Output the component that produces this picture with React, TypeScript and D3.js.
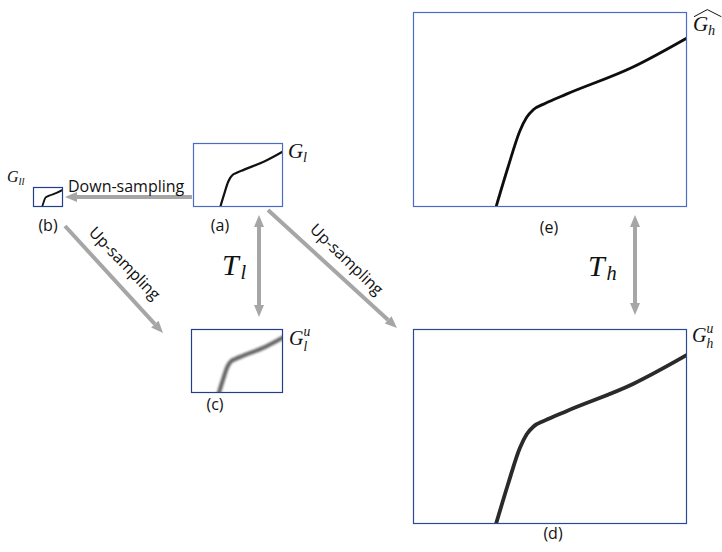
import React from 'react';
import * as d3 from 'd3';

// normalized curve: x from left, y from bottom
const curveX = [0.303, 0.347, 0.39, 0.415, 0.44, 0.48, 0.562, 0.803, 1.0];
const curveY = [0.0, 0.205, 0.39, 0.46, 0.5, 0.53, 0.58, 0.718, 0.867];

const panelIds = ['a', 'b', 'c', 'd', 'e'];
const panelCaptions = ['(a)', '(b)', '(c)', '(d)', '(e)'];

const W = 722;
const H = 552;

// layout of the diagram
const layout: Record<string, any> = {
  a: { x: 193, y: 143, w: 90, h: 64, border: '#4a6cc2', stroke: '#111', sw: 2.2, blur: 0, cap: [220, 231] },
  b: { x: 33, y: 187, w: 30, h: 20, border: '#22408a', stroke: '#111', sw: 1.8, blur: 0, cap: [48, 231] },
  c: { x: 191, y: 329, w: 92, h: 64, border: '#22408a', stroke: '#666', sw: 4.2, blur: 1.2, cap: [215, 410] },
  d: { x: 413, y: 329, w: 274, h: 195, border: '#2a4a95', stroke: '#2a2a2a', sw: 3.8, blur: 0.7, cap: [553, 539] },
  e: { x: 413, y: 12, w: 274, h: 195, border: '#4a6cc2', stroke: '#0a0a0a', sw: 2.8, blur: 0.3, cap: [549, 233] },
};

const arrowColor = '#a6a6a6';

const Arrow = ({ x1, y1, x2, y2, both = false }: any) => {
  const len = 12;
  const half = 5;
  const dx = x2 - x1;
  const dy = y2 - y1;
  const d = Math.hypot(dx, dy);
  const ux = dx / d;
  const uy = dy / d;
  const head = (tx: number, ty: number, vx: number, vy: number) => {
    const bx = tx - vx * len;
    const by = ty - vy * len;
    return `${tx},${ty} ${bx - vy * half},${by + vx * half} ${bx + vy * half},${by - vx * half}`;
  };
  const sx = both ? x1 + ux * len : x1;
  const sy = both ? y1 + uy * len : y1;
  return (
    <g>
      <line x1={sx} y1={sy} x2={x2 - ux * len} y2={y2 - uy * len} stroke={arrowColor} strokeWidth={4} />
      <polygon points={head(x2, y2, ux, uy)} fill={arrowColor} />
      {both && <polygon points={head(x1, y1, -ux, -uy)} fill={arrowColor} />}
    </g>
  );
};

const Panel = ({ id, caption }: any) => {
  const p = layout[id];
  const x = d3.scaleLinear().domain([0, 1]).range([p.x, p.x + p.w]);
  const y = d3.scaleLinear().domain([0, 1]).range([p.y + p.h, p.y]);
  const pts: [number, number][] = curveX.map((v, i) => [v, curveY[i]]);
  const line = d3
    .line<[number, number]>()
    .x((d) => x(d[0]))
    .y((d) => y(d[1]))
    .curve(d3.curveMonotoneX);
  return (
    <g>
      <defs>
        <clipPath id={`clip-${id}`}>
          <rect x={p.x} y={p.y} width={p.w} height={p.h} />
        </clipPath>
        {p.blur > 0 && (
          <filter id={`blur-${id}`} x="-20%" y="-20%" width="140%" height="140%">
            <feGaussianBlur stdDeviation={p.blur} />
          </filter>
        )}
      </defs>
      <rect x={p.x} y={p.y} width={p.w} height={p.h} fill="#fff" />
      <g clipPath={`url(#clip-${id})`}>
        <path
          d={line(pts) || ''}
          fill="none"
          stroke={p.stroke}
          strokeWidth={p.sw}
          strokeLinecap="round"
          filter={p.blur > 0 ? `url(#blur-${id})` : undefined}
        />
      </g>
      <rect x={p.x + 0.5} y={p.y + 0.5} width={p.w - 1} height={p.h - 1} fill="none" stroke={p.border} strokeWidth={1.2} />
      <text x={p.cap[0]} y={p.cap[1]} textAnchor="middle" fontFamily="'Open Sans', sans-serif" fontSize={16} fill="#111">
        {caption}
      </text>
    </g>
  );
};

const mathFont = "'Liberation Serif', 'DejaVu Serif', serif";

const MathLabel = ({ x, y, size, base, sub, sup, subDy = 4, supDy = -8, gap = 0.72, hat = false }: any) => {
  const small = size * 0.68;
  const sx = x + size * gap;
  return (
    <g fontFamily={mathFont} fontStyle="italic" fill="#111">
      <text x={x} y={y} fontSize={size}>{base}</text>
      {sub && <text x={sx} y={y + subDy} fontSize={small}>{sub}</text>}
      {sup && <text x={sx} y={y + supDy} fontSize={small}>{sup}</text>}
      {hat && (
        <path
          d={`M${x + 1},${y - size * 0.68} L${x + size * 0.68},${y - size * 1.02} L${x + size * 1.35},${y - size * 0.68}`}
          fill="none"
          stroke="#111"
          strokeWidth={1}
        />
      )}
    </g>
  );
};

export default function App() {
  const textFont = "'Open Sans', sans-serif";
  return (
    <svg width={W} height={H} style={{ position: 'absolute', left: 0, top: 0, display: 'block', background: '#fff' }}>
      <rect width={W} height={H} fill="#fff" />

      {/* arrows */}
      <Arrow x1={192} y1={197} x2={65} y2={197} />
      <Arrow x1={65} y1={226} x2={163} y2={333} />
      <Arrow x1={268} y1={210} x2={397} y2={328} />
      <Arrow x1={259} y1={215} x2={259} y2={317} both />
      <Arrow x1={635} y1={215} x2={635} y2={315} both />

      {panelIds.map((id, i) => (
        <Panel key={id} id={id} caption={panelCaptions[i]} />
      ))}

      <text x={68} y={192} fontFamily={textFont} fontSize={16} fill="#111">Down-sampling</text>
      <text
        transform="translate(125,263) rotate(46)"
        textAnchor="middle"
        dominantBaseline="central"
        fontFamily={textFont}
        fontSize={16}
        fill="#111"
      >
        Up-sampling
      </text>
      <text
        transform="translate(347,259) rotate(44)"
        textAnchor="middle"
        dominantBaseline="central"
        fontFamily={textFont}
        fontSize={16}
        fill="#111"
      >
        Up-sampling
      </text>

      <MathLabel x={7} y={182} size={16} base="G" sub="ll" subDy={3} />
      <MathLabel x={288} y={158} size={21} base="G" sub="l" />
      <MathLabel x={289} y={345} size={20} base="G" sub="l" sup="u" subDy={6} supDy={-9} />
      <MathLabel x={693} y={31} size={21} base="G" sub="h" subDy={4} hat />
      <MathLabel x={692} y={342} size={20} base="G" sub="h" sup="u" subDy={6} supDy={-9} />
      <MathLabel x={222} y={275} size={30} base="T" sub="l" subDy={4} gap={0.62} />
      <MathLabel x={588} y={276} size={30} base="T" sub="h" subDy={4} gap={0.62} />
    </svg>
  );
}
